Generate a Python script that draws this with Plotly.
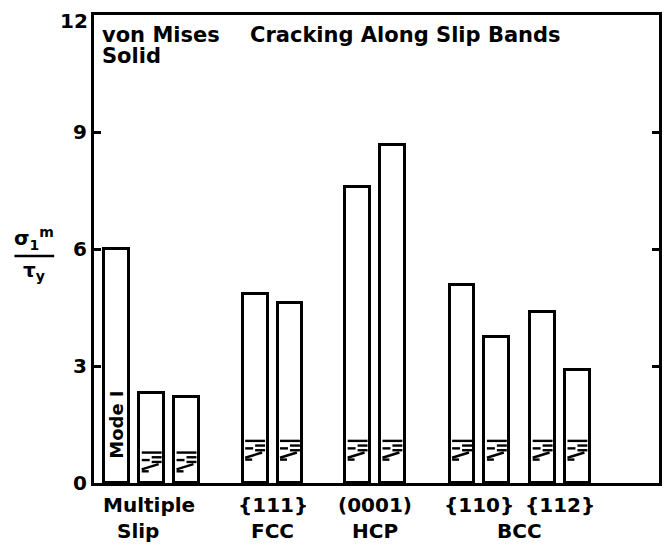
import plotly.graph_objects as go

# ---- data ----
groups = ["Multiple Slip", "FCC {111}", "HCP (0001)", "BCC {110}", "BCC {112}"]
group_top_labels = ["Multiple", "{111}", "(0001)", "{110}", "{112}"]
group_bottom_labels = ["Slip", "FCC", "HCP", None, None]
bars_per_group = [3, 2, 2, 2, 2]
stress_ratio = [6.0, 2.31, 2.2, 4.85, 4.62, 7.59, 8.67, 5.08, 3.74, 4.38, 2.90]
y_ticks = [0, 3, 6, 9, 12]

# ---- layout of bars (x axis in pixel-like units) ----
STEP = 35
GROUP_GAPS = [69, 68, 70, 46]
START = 23
BAR_W = 25
X_SPAN = 568

xpos = []
group_members = []
x = START
for gi, n in enumerate(bars_per_group):
    members = []
    for k in range(n):
        if k > 0:
            x += STEP
        xpos.append(x)
        members.append(x)
    group_members.append(members)
    if gi < len(GROUP_GAPS):
        x += GROUP_GAPS[gi]

FONT = "DejaVu Sans"
BLACK = "#000000"

fig = go.Figure()
fig.add_trace(go.Bar(
    x=xpos, y=stress_ratio, width=BAR_W,
    marker=dict(color="white", line=dict(color=BLACK, width=3)),
    showlegend=False, hoverinfo="skip"))

# crack/slip-band symbol near the bottom of every bar except the first
sx, sy = [], []
h = BAR_W / 2 * 0.8
for i, (cx, val) in enumerate(zip(xpos, stress_ratio)):
    if i == 0:
        continue
    base = 0.3 if i < bars_per_group[0] else 0.6
    H = 0.48
    segs = [
        ((-1, 1.0), (1, 1.0)),
        ((0.0, 0.75), (1, 0.75)),
        ((0.0, 0.5), (1, 0.5)),
        ((-1, 0.1), (0.7, 0.38)),
        ((-1, 0.6), (-0.2, 0.6)),
        ((-1, 0.0), (-0.3, 0.0)),
    ]
    for (u0, v0), (u1, v1) in segs:
        sx += [cx + u0 * h, cx + u1 * h, None]
        sy += [base + v0 * H, base + v1 * H, None]
fig.add_trace(go.Scatter(x=sx, y=sy, mode="lines",
                         line=dict(color=BLACK, width=2.4),
                         showlegend=False, hoverinfo="skip"))

PW = X_SPAN  # plot width in px (1 px per x unit)


def px(v):
    """convert a pixel offset from the left axis into paper units"""
    return v / PW


ann = []
# Mode I label inside first bar
ann.append(dict(x=xpos[0], y=1.49, xref="x", yref="y", text="<b>Mode I</b>",
                textangle=-90, showarrow=False,
                font=dict(family=FONT, size=18, color=BLACK)))

# group labels
for gi, members in enumerate(group_members):
    c = sum(members) / len(members)
    ann.append(dict(x=c - (3 if gi == 0 else 0), y=-0.047, xref="x", yref="paper",
                    text="<b>%s</b>" % group_top_labels[gi],
                    showarrow=False, yanchor="middle",
                    font=dict(family=FONT, size=20, color=BLACK)))
    if group_bottom_labels[gi]:
        ann.append(dict(x=c - (14 if gi == 0 else 0), y=-0.102, xref="x", yref="paper",
                        text="<b>%s</b>" % group_bottom_labels[gi],
                        showarrow=False, yanchor="middle",
                        font=dict(family=FONT, size=20, color=BLACK)))
bcc = group_members[3] + group_members[4]
ann.append(dict(x=sum(bcc) / len(bcc), y=-0.102, xref="x", yref="paper", text="<b>BCC</b>",
                showarrow=False, yanchor="middle",
                font=dict(family=FONT, size=20, color=BLACK)))

# top texts
ann.append(dict(x=px(7), y=0.957, xref="paper", yref="paper", text="<b>von Mises</b>",
                xanchor="left", yanchor="middle", showarrow=False, borderpad=0,
                font=dict(family=FONT, size=21, color=BLACK)))
ann.append(dict(x=px(7), y=0.912, xref="paper", yref="paper", text="<b>Solid</b>",
                xanchor="left", yanchor="middle", showarrow=False, borderpad=0,
                font=dict(family=FONT, size=21, color=BLACK)))
ann.append(dict(x=px(155), y=0.957, xref="paper", yref="paper", text="<b>Cracking Along Slip Bands</b>",
                xanchor="left", yanchor="middle", showarrow=False,
                font=dict(family=FONT, size=21, color=BLACK)))

# top tick label (drawn as text so it is not clipped at the page top)
ann.append(dict(x=0, y=1.015, xref="paper", yref="paper", text="<b>%d</b>" % y_ticks[-1],
                xanchor="right", yanchor="top", xshift=-5, showarrow=False, borderpad=0,
                font=dict(family=FONT, size=20, color=BLACK)))

# y-axis fraction label
ann.append(dict(x=px(-60), y=0.522, xref="paper", yref="paper",
                text="<b>σ<sub>1</sub><sup>m</sup></b>", showarrow=False,
                xanchor="center", yanchor="middle",
                font=dict(family=FONT, size=20, color=BLACK)))
ann.append(dict(x=px(-60), y=0.452, xref="paper", yref="paper",
                text="<b>τ<sub>y</sub></b>", showarrow=False,
                xanchor="center", yanchor="middle",
                font=dict(family=FONT, size=20, color=BLACK)))

fig.update_layout(
    width=86 + PW + 3, height=537,
    margin=dict(l=86, r=3, t=7, b=62),
    paper_bgcolor="white", plot_bgcolor="white",
    annotations=ann,
    shapes=[dict(type="line", xref="paper", yref="paper",
                 x0=px(-80), x1=px(-40), y0=0.485, y1=0.485,
                 line=dict(color=BLACK, width=2.5))],
    bargap=0,
)
fig.update_xaxes(range=[0, X_SPAN], showgrid=False, zeroline=False,
                 showticklabels=False, ticks="",
                 showline=True, linecolor=BLACK, linewidth=3, mirror=True)
fig.update_yaxes(range=[0, 12], tickvals=y_ticks,
                 ticktext=["<b>%d</b>" % v for v in y_ticks[:-1]] + [""],
                 showgrid=False, zeroline=False,
                 ticks="inside", ticklen=7, tickwidth=2.5, tickcolor=BLACK,
                 showline=True, linecolor=BLACK, linewidth=3, mirror="ticks",
                 tickfont=dict(family=FONT, size=20, color=BLACK))

fig.write_html("out.html")
